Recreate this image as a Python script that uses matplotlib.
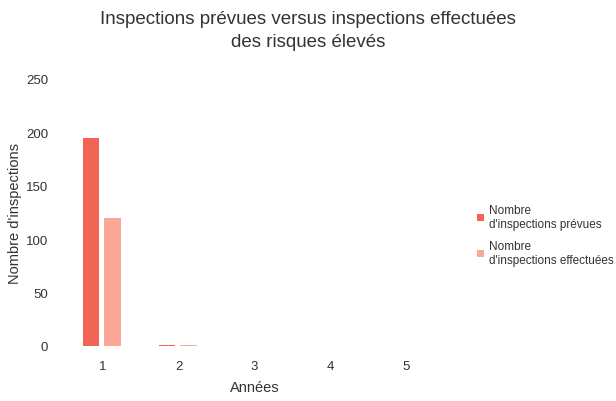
import numpy as np
import matplotlib.pyplot as plt

plt.rcParams['font.family'] = ['Liberation Sans', 'DejaVu Sans']

# Data
annees = ['1', '2', '3', '4', '5']
prevues = [195, 1, 0, 0, 0]      # Nombre d'inspections prévues
effectuees = [120, 1, 0, 0, 0]   # Nombre d'inspections effectuées

col_prev = '#F26552'
col_eff = '#FAA797'
txt = '#333333'

fig = plt.figure(figsize=(6.16, 4.02), dpi=100)
ax = fig.add_axes([0.1055, 0.137, 0.615, 0.664])

x = np.arange(len(annees))
w = 0.22
ax.bar(x - 0.155, prevues, w, color=col_prev, label="Nombre\nd'inspections prévues")
ax.bar(x + 0.13, effectuees, w, color=col_eff, label="Nombre\nd'inspections effectuées")

ax.set_xlim(-0.5, len(annees) - 0.5)
ax.set_ylim(0, 250)
ax.set_xticks(x)
ax.set_xticklabels(annees)
ax.set_yticks([0, 50, 100, 150, 200, 250])
ax.tick_params(length=0, labelsize=9.5, colors=txt, pad=10)
ax.tick_params(axis='y', pad=12)
for s in ax.spines.values():
    s.set_visible(False)

ax.set_xlabel('Années', fontsize=10.5, color=txt, labelpad=6)
ax.set_ylabel("Nombre d'inspections", fontsize=10.5, color=txt, labelpad=3)

fig.text(0.5, 0.972, 'Inspections prévues versus inspections effectuées\ndes risques élevés',
         ha='center', va='top', fontsize=13.5, color=txt, linespacing=1.45)

leg = ax.legend(loc='center left', bbox_to_anchor=(1.075, 0.415), frameon=False,
                borderaxespad=0, fontsize=8.5, handlelength=0.6, handleheight=0.6,
                handletextpad=0.4, labelspacing=0.9)
for t in leg.get_texts():
    t.set_color(txt)

fig.savefig('out.png', dpi=100)
